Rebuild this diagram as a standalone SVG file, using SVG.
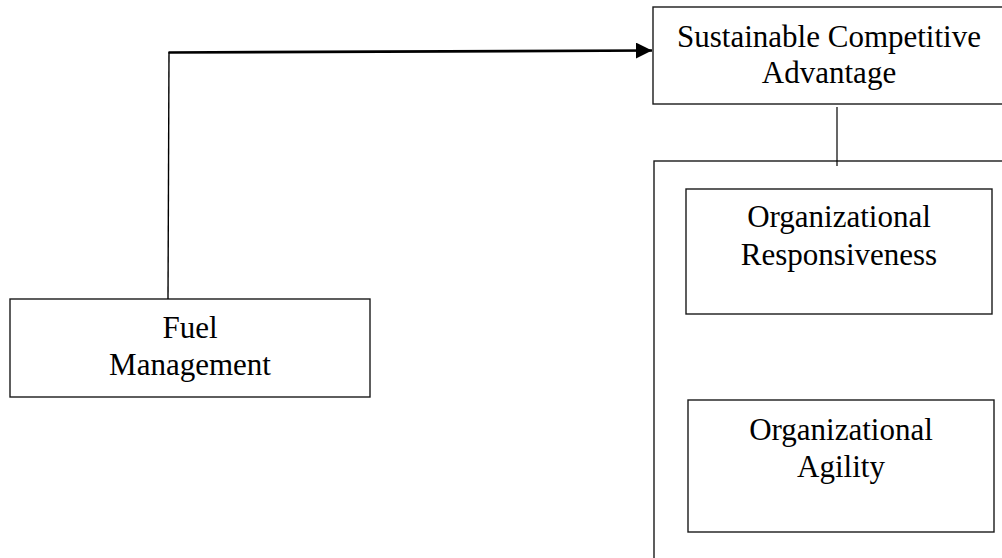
<svg xmlns="http://www.w3.org/2000/svg" width="1002" height="558" viewBox="0 0 1002 558">
<style>
.box{fill:#fff;stroke:#1a1a1a;stroke-width:1.4}
.lbl{font-family:"Liberation Serif","Times New Roman",serif;font-size:31px;fill:#000;text-anchor:middle}
.conn{fill:none;stroke:#000}
</style>
<defs>
<marker id="arr" viewBox="0 0 16 16" refX="16" refY="8" markerWidth="16" markerHeight="16" markerUnits="userSpaceOnUse" orient="auto">
<path d="M0,0 L16,8 L0,16 Z" fill="#000"/>
</marker>
</defs>
<rect width="1002" height="558" fill="#fff"/>
<g id="container">
<rect class="box" x="654" y="161" width="360" height="420"/>
</g>
<g id="sca">
<rect class="box" x="653" y="7" width="360" height="97"/>
<text class="lbl" x="829" y="47">Sustainable Competitive</text>
<text class="lbl" x="829" y="83">Advantage</text>
</g>
<g id="fuel">
<rect class="box" x="10" y="299" width="360" height="98"/>
<text class="lbl" x="190" y="338">Fuel</text>
<text class="lbl" x="190" y="375">Management</text>
</g>
<g id="resp">
<rect class="box" x="686" y="189" width="306" height="125"/>
<text class="lbl" x="839" y="227">Organizational</text>
<text class="lbl" x="839" y="265">Responsiveness</text>
</g>
<g id="agility">
<rect class="box" x="688" y="400" width="306" height="132"/>
<text class="lbl" x="841" y="440">Organizational</text>
<text class="lbl" x="841" y="477">Agility</text>
</g>
<g id="connectors">
<line class="conn" x1="168" y1="299" x2="169" y2="52" stroke-width="1.4"/>
<line class="conn" x1="168.5" y1="52.5" x2="652" y2="50.5" stroke-width="2.6" marker-end="url(#arr)"/>
<line class="conn" x1="837" y1="107" x2="837" y2="166" stroke-width="1.2"/>
</g>
</svg>
